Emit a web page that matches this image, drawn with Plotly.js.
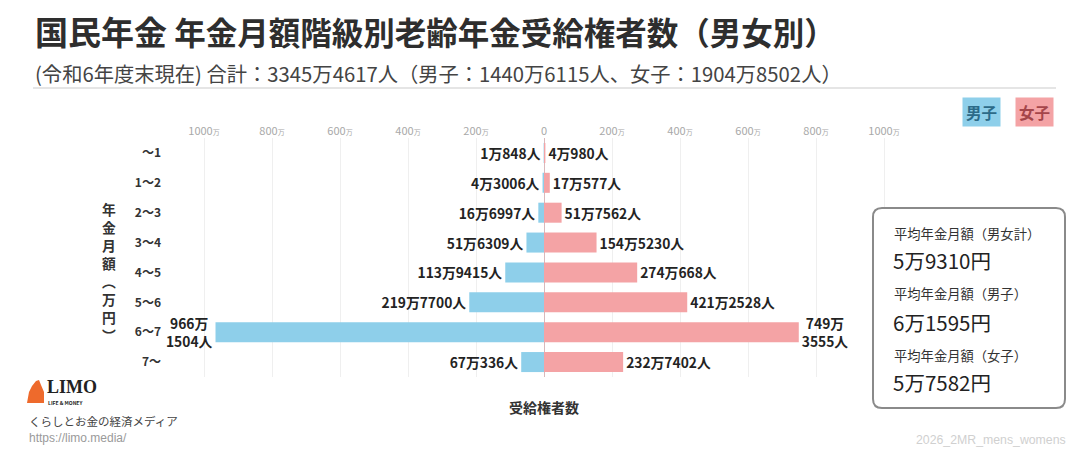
<!DOCTYPE html>
<html>
<head>
<meta charset="utf-8">
<script src="https://cdn.plot.ly/plotly-3.0.1.min.js"></script>
<style>
html,body{margin:0;padding:0;background:#fff;}
#chart{width:1088px;height:465px;}
</style>
</head>
<body>
<div id="chart"></div>
<script>
// ---- data ----
const categories = ['～1','1～2','2～3','3～4','4～5','5～6','6～7','7～'];
const maleCounts = [10848, 43006, 166997, 516309, 1139415, 2197700, 9661504, 670336];
const femaleCounts = [40980, 170577, 517562, 1545230, 2740668, 4212528, 7493555, 2327402];
const tickValues = [-1000, -800, -600, -400, -200, 0, 200, 400, 600, 800, 1000];
const tickNumbers = ['1000', '800', '600', '400', '200', '0', '200', '400', '600', '800', '1000'];
const avgLabels = ['平均年金月額（男女計）', '平均年金月額（男子）', '平均年金月額（女子）'];
const avgValues = ['5万9310円', '6万1595円', '5万7582円'];
const titleMain = '国民年金';
const titleRest = '年金月額階級別老齢年金受給権者数（男女別）';
const subtitle = '(令和6年度末現在) 合計：3345万4617人（男子：1440万6115人、女子：1904万8502人）';

// ---- helpers ----
const W = 1088, H = 465;
const M = {l: 170, r: 170, t: 138, b: 88};
const PW = W - M.l - M.r, PH = H - M.t - M.b;
const px = x => (x - M.l) / PW;
const py = y => (H - M.b - y) / PH;
const fmt = v => {
  const man = Math.floor(v / 10000), rest = v % 10000;
  const sep = v >= 7000000 ? '<br>' : '';
  return man + '万' + sep + rest + '人';
};
const FONT = '"Noto Sans CJK JP", "Noto Sans", sans-serif';

const male = {
  type: 'bar', orientation: 'h', y: categories,
  x: maleCounts.map(v => -v / 10000),
  text: maleCounts.map(fmt),
  textposition: 'outside', cliponaxis: false, constraintext: 'none',
  textfont: {family: FONT, size: 13.8, color: '#232323', weight: 'bold'},
  marker: {color: '#8ECFEA'}, hoverinfo: 'skip', name: '男子'
};
const female = {
  type: 'bar', orientation: 'h', y: categories,
  x: femaleCounts.map(v => v / 10000),
  text: femaleCounts.map(fmt),
  textposition: 'outside', cliponaxis: false, constraintext: 'none',
  textfont: {family: FONT, size: 13.8, color: '#232323', weight: 'bold'},
  marker: {color: '#F4A3A5'}, hoverinfo: 'skip', name: '女子'
};

const ann = [];
function txt(x, y, text, size, color, opts) {
  ann.push(Object.assign({
    xref: 'paper', yref: 'paper', x: px(x), y: py(y), text: text,
    showarrow: false, xanchor: 'left', yanchor: 'middle',
    font: {family: FONT, size: size, color: color}
  }, opts || {}));
}
// title
txt(33, 31, '<b><span style="font-size:33px">' + titleMain + '</span> ' + titleRest + '</b>', 31.5, '#2e2e2e');
txt(33, 73, subtitle, 20.3, '#444');
// legend badges
txt(982, 112, '<b>男子</b>', 15.5, '#2c6a88', {xanchor: 'center', bgcolor: '#8ECFEA', borderpad: 3});
txt(1034, 112, '<b>女子</b>', 15.5, '#a5454a', {xanchor: 'center', bgcolor: '#F4A3A5', borderpad: 3});
// y title vertical
txt(109, 272, '<b>年<br>金<br>月<br>額<br>︵<br>万<br>円<br>︶</b>', 13.8, '#333', {xanchor: 'center'});
// x title at bottom
txt(544, 407, '<b>受給権者数</b>', 14, '#333', {xanchor: 'center'});
// average box
const boxY = [233, 260, 293, 322, 355, 382];
for (let i = 0; i < 3; i++) {
  txt(892, boxY[2*i], avgLabels[i], 13.3, '#333');
  txt(891, boxY[2*i+1], avgValues[i], 20.5, '#222');
}
// logo texts
txt(45, 386.5, '<b>LIMO</b>', 18, '#222', {font: {family: '"Liberation Serif", serif', size: 18, color: '#222'}});
txt(46, 402, '<b>LIFE &amp; MONEY</b>', 5, '#222');
txt(27, 421, 'くらしとお金の経済メディア', 11.5, '#444');
txt(27, 438, 'https://limo.media/', 12, '#9a9a9a', {font: {family: '"Liberation Sans", sans-serif', size: 12, color: '#9a9a9a'}});
txt(1068, 440, '2026_2MR_mens_womens', 12.3, '#cfcfcf', {xanchor: 'right', font: {family: '"Liberation Sans", sans-serif', size: 12.3, color: '#d0d0d0'}});

// rounded box path
function roundRect(L, T, R, B, r) {
  const X = v => px(v), Y = v => py(v);
  return 'M' + X(L + r) + ',' + Y(T) +
    ' L' + X(R - r) + ',' + Y(T) + ' Q' + X(R) + ',' + Y(T) + ' ' + X(R) + ',' + Y(T + r) +
    ' L' + X(R) + ',' + Y(B - r) + ' Q' + X(R) + ',' + Y(B) + ' ' + X(R - r) + ',' + Y(B) +
    ' L' + X(L + r) + ',' + Y(B) + ' Q' + X(L) + ',' + Y(B) + ' ' + X(L) + ',' + Y(B - r) +
    ' L' + X(L) + ',' + Y(T + r) + ' Q' + X(L) + ',' + Y(T) + ' ' + X(L + r) + ',' + Y(T) + ' Z';
}
function poly(pts) {
  return 'M' + pts.map(p => px(p[0]) + ',' + py(p[1])).join(' L') + ' Z';
}
const shapes = [
  {type: 'line', xref: 'paper', yref: 'paper', x0: px(33), x1: px(1056), y0: py(88), y1: py(88),
   line: {color: '#dcdcdc', width: 1.5}},
  {type: 'path', xref: 'paper', yref: 'paper', path: roundRect(873, 208, 1065, 408, 9),
   fillcolor: '#ffffff', line: {color: '#8a8a8a', width: 2}, layer: 'above'},
  {type: 'path', xref: 'paper', yref: 'paper',
   path: poly([[27,403],[29,392],[32,386],[36,381],[39,380],[41,385],[44,392],[44,403]]),
   fillcolor: '#EE6A2C', line: {width: 0}}
];

const layout = {
  width: W, height: H,
  margin: M,
  paper_bgcolor: '#ffffff', plot_bgcolor: '#ffffff',
  showlegend: false,
  barmode: 'relative', bargap: 0.33,
  font: {family: FONT},
  xaxis: {
    side: 'top', range: [-1100, 1100], fixedrange: true,
    tickvals: tickValues,
    ticktext: tickNumbers.map(t => t === '0' ? '0' : t + '<span style="font-size:7px">万</span>'),
    tickfont: {family: FONT, size: 11, color: '#a8a8a8'},
    showgrid: true, gridcolor: '#efefef', gridwidth: 1,
    zeroline: true, zerolinecolor: '#d9b8bb', zerolinewidth: 1,
    showline: false, ticks: '', ticklabelstandoff: 0
  },
  yaxis: {
    type: 'category', range: [7.5, -0.5], fixedrange: true,
    tickfont: {family: FONT, size: 12, color: '#333', weight: 'bold'},
    showgrid: false, zeroline: false, showline: false, ticks: '',
    ticklabelstandoff: 8
  },
  annotations: ann,
  shapes: shapes
};

Plotly.newPlot('chart', [male, female], layout, {displayModeBar: false, staticPlot: true});
</script>
</body>
</html>
